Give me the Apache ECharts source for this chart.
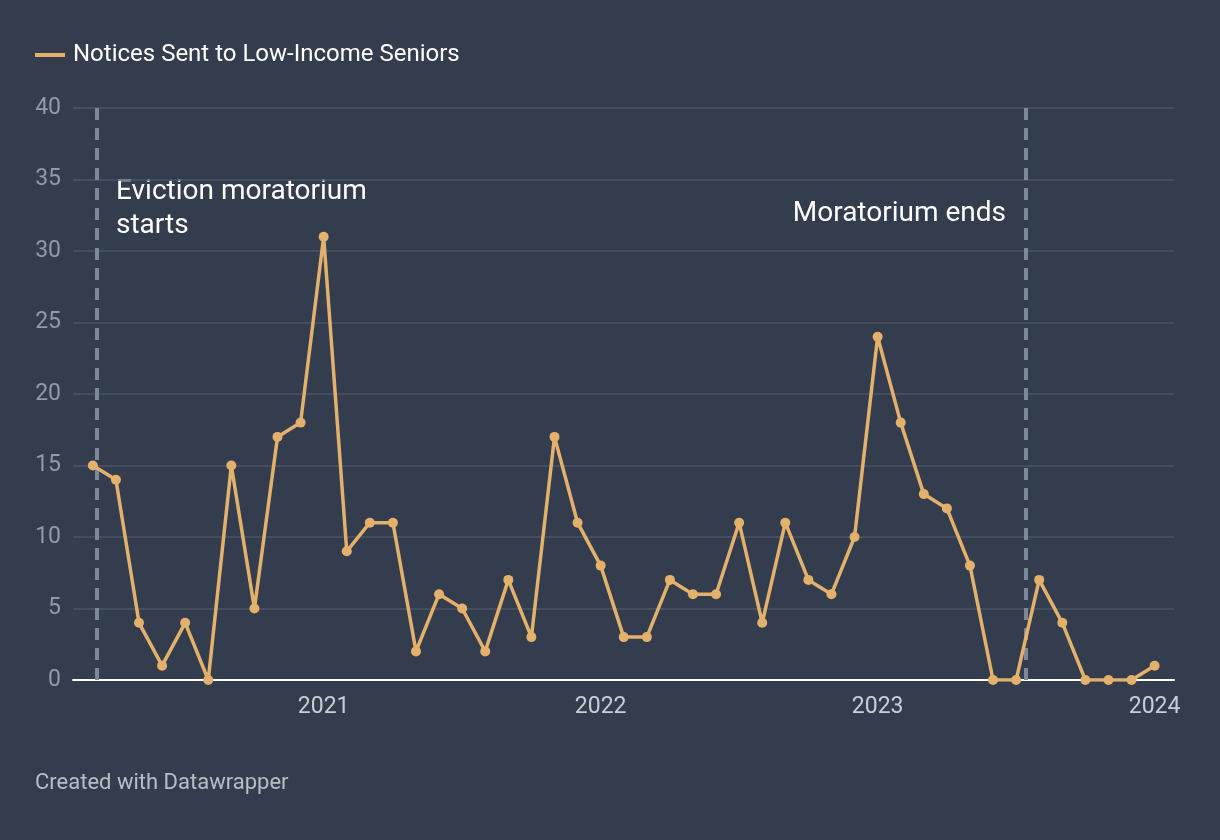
<!DOCTYPE html>
<html>
<head>
<meta charset="utf-8">
<script src="https://cdn.jsdelivr.net/npm/echarts@6/dist/echarts.min.js"></script>
<style>
  html, body { margin: 0; padding: 0; background: #333d4d; }
  #chart { width: 1220px; height: 840px; }
</style>
</head>
<body>
<div id="chart"></div>
<script>
// ---- data ----
const months = [
  '2020-03','2020-04','2020-05','2020-06','2020-07','2020-08','2020-09','2020-10','2020-11','2020-12',
  '2021-01','2021-02','2021-03','2021-04','2021-05','2021-06','2021-07','2021-08','2021-09','2021-10','2021-11','2021-12',
  '2022-01','2022-02','2022-03','2022-04','2022-05','2022-06','2022-07','2022-08','2022-09','2022-10','2022-11','2022-12',
  '2023-01','2023-02','2023-03','2023-04','2023-05','2023-06','2023-07','2023-08','2023-09','2023-10','2023-11','2023-12',
  '2024-01'
];
const notices = [
  15,14,4,1,4,0,15,5,17,18,
  31,9,11,11,2,6,5,2,7,3,17,11,
  8,3,3,7,6,6,11,4,11,7,6,10,
  24,18,13,12,8,0,0,7,4,0,0,0,
  1
];
const seriesName = 'Notices Sent to Low-Income Seniors';
const yearTicks = ['2021', '2022', '2023', '2024'];
const yTicks = [0, 5, 10, 15, 20, 25, 30, 35, 40];
// event dates (moratorium start / end)
const eventDates = ['2020-03-07', '2023-07-14'];
const eventLabels = ['Eviction moratorium\nstarts', 'Moratorium ends'];

// ---- helpers: month index, 0 = Jan 2020 ----
const BASE_YEAR = 2020;
function monthIndex(s) {
  const p = s.split('-').map(Number);
  let idx = (p[0] - BASE_YEAR) * 12 + ((p[1] || 1) - 1);
  if (p.length > 2) idx += (p[2] - 1) / 31;
  return idx;
}
const lineData = months.map((m, i) => [monthIndex(m), notices[i]]);
const yearValues = yearTicks.map(y => monthIndex(y + '-01'));
const eventValues = eventDates.map(monthIndex);

const chart = echarts.init(document.getElementById('chart'), null, { renderer: 'canvas' });
const FONT = 'Roboto, "Noto Sans", sans-serif';
const LINE_COLOR = '#e3b16c';
const option = {
  backgroundColor: '#333d4d',
  animation: false,
  textStyle: { fontFamily: FONT },
  legend: {
    show: true,
    left: 30,
    top: 38,
    itemWidth: 30,
    itemHeight: 4,
    icon: 'rect',
    itemStyle: { color: LINE_COLOR },
    textStyle: { color: '#ffffff', fontSize: 24, fontFamily: FONT, padding: [0, 0, 0, 3] },
    data: [seriesName]
  },
  grid: { left: 73, right: 46, top: 108, bottom: 160, containLabel: false },
  xAxis: {
    type: 'value',
    min: 1.14,
    max: 48.84,
    splitLine: { show: false },
    axisTick: { show: false },
    axisLine: { show: true, onZero: true, lineStyle: { color: '#ffffff', width: 2 } },
    axisLabel: {
      show: true,
      customValues: yearValues,
      formatter: v => String(BASE_YEAR + Math.round(v / 12)),
      color: '#c9ced6',
      fontSize: 23,
      fontFamily: FONT,
      margin: 16
    }
  },
  yAxis: {
    type: 'value',
    min: 0,
    max: 40,
    interval: 5,
    axisLine: { show: false },
    axisTick: { show: false },
    splitLine: { show: true, lineStyle: { color: '#4a5465', width: 1.5 } },
    axisLabel: {
      color: '#919aa6',
      fontSize: 23,
      fontFamily: FONT,
      margin: 12,
      formatter: v => yTicks.includes(v) ? String(v) : ''
    }
  },
  series: [{
    name: seriesName,
    type: 'line',
    data: lineData,
    color: LINE_COLOR,
    lineStyle: { color: LINE_COLOR, width: 3.5 },
    itemStyle: { color: LINE_COLOR },
    symbol: 'circle',
    symbolSize: 10,
    showSymbol: true,
    z: 5,
    markLine: {
      silent: true,
      symbol: ['none', 'none'],
      label: { show: false },
      lineStyle: { color: '#7d8997', width: 4, type: [12, 8] },
      emphasis: { disabled: true },
      data: eventValues.map(v => ({ xAxis: v })),
      z: 2
    }
  }],
  graphic: [
    {
      type: 'text',
      left: 116,
      top: 175,
      style: {
        text: eventLabels[0],
        fill: '#ffffff',
        fontSize: 28,
        fontFamily: FONT,
        lineHeight: 34
      }
    },
    {
      type: 'text',
      right: 1220 - 1006,
      top: 197,
      style: {
        text: eventLabels[1],
        fill: '#ffffff',
        fontSize: 28,
        fontFamily: FONT,
        lineHeight: 34,
        align: 'right'
      }
    },
    {
      type: 'text',
      left: 35,
      top: 772,
      style: {
        text: 'Created with Datawrapper',
        fill: '#b9bec6',
        fontSize: 22,
        fontFamily: FONT
      }
    }
  ]
};
chart.setOption(option);
</script>
</body>
</html>
